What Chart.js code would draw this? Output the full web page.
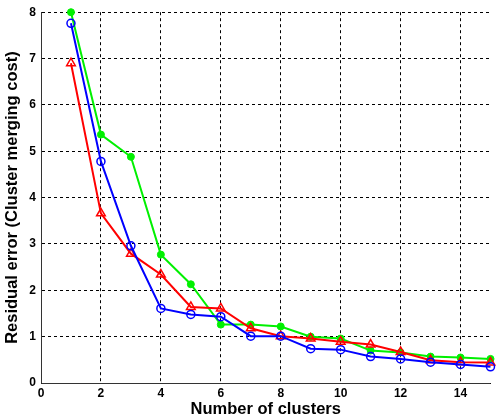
<!DOCTYPE html>
<html lang="en">
<head>
    <meta charset="UTF-8">
    <title>Residual error</title>
    <script src="https://cdn.jsdelivr.net/npm/chart.js"></script>
    <style>
        html, body { margin: 0; padding: 0; background: #fff; }
        #wrap { width: 497px; height: 419px; }
    </style>
</head>
<body>
    <div id="wrap"><canvas id="errChart"></canvas></div>

    <script>
        // Values
        const clusters = [1, 2, 3, 4, 5, 6, 7, 8, 9, 10, 11, 12, 13, 14, 15];
        const blueErr  = [7.76, 4.78, 2.96, 1.61, 1.48, 1.43, 1.01, 1.01, 0.74, 0.72, 0.57, 0.52, 0.45, 0.40, 0.35];
        const redErr   = [6.90, 3.66, 2.79, 2.34, 1.64, 1.61, 1.18, 1.01, 0.96, 0.89, 0.83, 0.67, 0.49, 0.45, 0.44];
        const greenErr = [8.00, 5.36, 4.88, 2.77, 2.13, 1.26, 1.26, 1.22, 1.00, 0.96, 0.70, 0.66, 0.57, 0.55, 0.52];
        const xTicks = [0, 2, 4, 6, 8, 10, 12, 14];
        const yTicks = [0, 1, 2, 3, 4, 5, 6, 7, 8];

        const toPoints = vals => vals.map((v, i) => ({ x: clusters[i], y: v }));

        const tickFont = { family: 'Arial, "Liberation Sans", sans-serif', size: 12, weight: 'bold' };
        const titleFont = { family: 'Arial, "Liberation Sans", sans-serif', size: 16.5, weight: 'bold' };

        const ctx = document.getElementById('errChart').getContext('2d');
        new Chart(ctx, {
            type: 'line',
            data: {
                datasets: [
                    {
                        data: toPoints(blueErr),
                        borderColor: '#0000ff',
                        backgroundColor: '#ffffff00',
                        pointStyle: 'circle',
                        pointRadius: 4,
                        pointBorderWidth: 1.5,
                        borderWidth: 2,
                        clip: false,
                        order: 1
                    },
                    {
                        data: toPoints(redErr),
                        borderColor: '#ff0000',
                        backgroundColor: '#ffffff00',
                        pointStyle: 'triangle',
                        pointRadius: 5,
                        pointBorderWidth: 1.5,
                        borderWidth: 2,
                        clip: false,
                        order: 2
                    },
                    {
                        data: toPoints(greenErr),
                        borderColor: '#00f000',
                        backgroundColor: '#00f000',
                        pointStyle: 'circle',
                        pointRadius: 3.5,
                        pointBorderWidth: 1,
                        borderWidth: 2,
                        clip: false,
                        order: 3
                    }
                ]
            },
            options: {
                responsive: true,
                maintainAspectRatio: false,
                animation: false,
                layout: { padding: { top: 11, right: 1, left: 0, bottom: 0 } },
                plugins: { legend: { display: false }, tooltip: { enabled: false } },
                elements: { line: { tension: 0 } },
                scales: {
                    x: {
                        type: 'linear',
                        min: 0,
                        max: 15,
                        afterBuildTicks: s => { s.ticks = xTicks.map(v => ({ value: v })); },
                        afterFit: s => { s.height = 36; },
                        ticks: { color: '#000', font: tickFont, padding: 3, maxRotation: 0 },
                        grid: { color: '#000', lineWidth: 1, drawTicks: false },
                        border: { display: true, color: '#000', width: 1, dash: [3, 3] },
                        title: { display: true, text: 'Number of clusters', color: '#000', font: titleFont, padding: { top: 0, bottom: 0 } }
                    },
                    y: {
                        min: 0,
                        max: 8,
                        afterBuildTicks: s => { s.ticks = yTicks.map(v => ({ value: v })); },
                        afterFit: s => { s.width = 41; },
                        ticks: { color: '#000', font: tickFont, padding: 5 },
                        grid: { color: '#000', lineWidth: 1, drawTicks: false },
                        border: { display: true, color: '#000', width: 1, dash: [3, 3] },
                        title: { display: true, text: 'Residual error (Cluster merging cost)', color: '#000', font: titleFont, padding: { top: 3, bottom: 0 } }
                    }
                }
            },
            plugins: [{
                // solid axis lines on left and bottom, like the reference
                id: 'solidAxes',
                afterDraw(chart) {
                    const a = chart.chartArea;
                    const c = chart.ctx;
                    c.save();
                    c.strokeStyle = '#333';
                    c.lineWidth = 1;
                    c.setLineDash([]);
                    c.beginPath();
                    c.moveTo(a.left + 0.5, a.top);
                    c.lineTo(a.left + 0.5, a.bottom + 0.5);
                    c.lineTo(a.right, a.bottom + 0.5);
                    c.stroke();
                    c.restore();
                }
            }]
        });
    </script>
</body>
</html>
